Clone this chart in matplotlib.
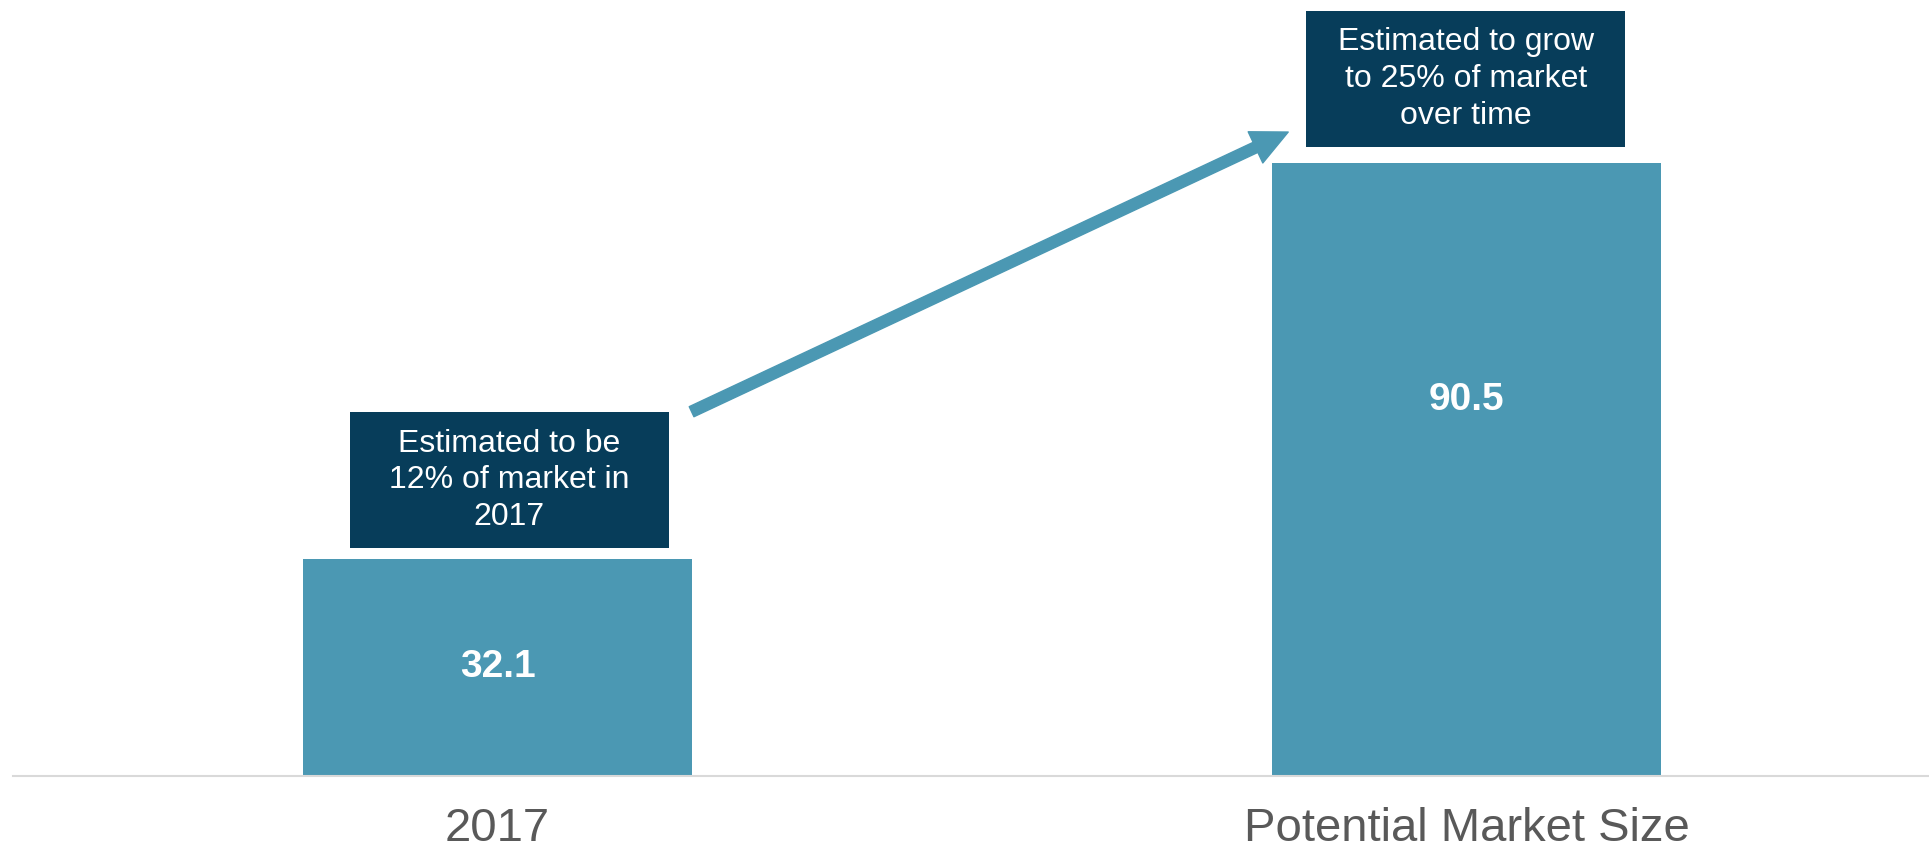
import matplotlib.pyplot as plt
from matplotlib.patches import Rectangle, FancyArrowPatch

plt.rcParams['font.family'] = ['Liberation Sans', 'DejaVu Sans']

categories = ['2017', 'Potential Market Size']
values = [32.1, 90.5]
value_labels = ['32.1', '90.5']
notes = ['Estimated to be\n12% of market in\n2017',
         'Estimated to grow\nto 25% of market\nover time']

bar_color = '#4b98b3'
box_color = '#073d5a'
label_frac = [0.5, 0.613]

fig = plt.figure(figsize=(19.29, 8.52), dpi=100)
ax = fig.add_axes([13 / 1929, 76 / 852, 1 - 13 / 1929, 776 / 852])

x = list(range(len(categories)))
ax.bar(x, values, width=0.401, color=bar_color, zorder=2)
ax.set_xlim(-0.5, 1.477)
ax.set_ylim(0, 114.6)

for i, v in enumerate(values):
    ax.text(i, v * label_frac[i], value_labels[i], ha='center', va='center',
            color='white', fontsize=28, fontweight='bold', zorder=4)

# note boxes above bars
box_w = 0.329
box_h = 20.1
box_gap = [1.5, 2.4]
box_dx = [0.012, -0.001]
for i, v in enumerate(values):
    cx = i + box_dx[i]
    y0 = v + box_gap[i]
    ax.add_patch(Rectangle((cx - box_w / 2, y0), box_w, box_h,
                           facecolor=box_color, edgecolor='none', zorder=3,
                           clip_on=False))
    ax.text(cx, y0 + box_h / 2, notes[i], ha='center', va='center',
            color='white', fontsize=23, linespacing=1.3, zorder=4)

# growth arrow
arrow = FancyArrowPatch((0.2002, 53.8), (0.8158, 95.1),
                        arrowstyle='simple,head_length=26,head_width=24.8,tail_width=8',
                        mutation_scale=1, color=bar_color, shrinkA=0, shrinkB=0,
                        zorder=3)
ax.add_patch(arrow)

for s in ['top', 'right', 'left']:
    ax.spines[s].set_visible(False)
ax.spines['bottom'].set_color('#d9d9d9')
ax.spines['bottom'].set_linewidth(1.5)
ax.set_yticks([])
ax.set_xticks(x)
ax.set_xticklabels(categories, fontsize=34, color='#595959')
ax.tick_params(axis='x', length=0, pad=22)

fig.savefig('out.png', dpi=100)
